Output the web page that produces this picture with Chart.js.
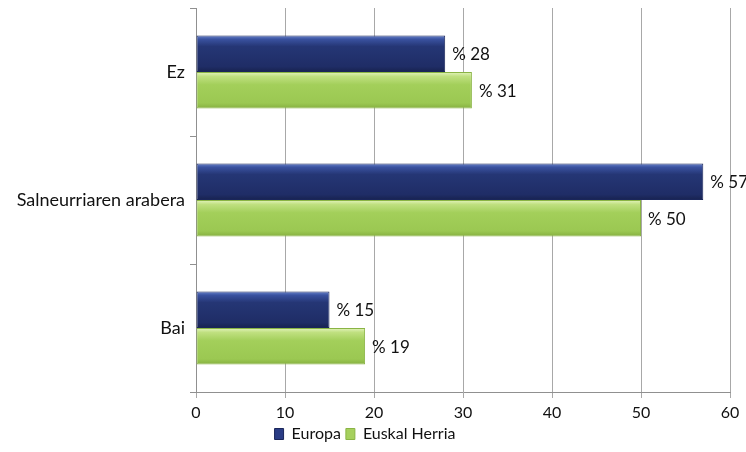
<!DOCTYPE html>
<html><head><meta charset="utf-8">
<script src="https://cdn.jsdelivr.net/npm/chart.js@4.4.1/dist/chart.umd.min.js"></script>
<style>html,body{margin:0;padding:0;background:#fff}#wrap{width:746px;height:452px}</style>
</head><body><div id="wrap"><canvas id="c"></canvas></div>
<script>
const categories = ["Ez", "Salneurriaren arabera", "Bai"];
const europa = [28, 57, 15];
const euskalHerria = [31, 50, 19];
const xTicks = [0, 10, 20, 30, 40, 50, 60];
const seriesNames = ["Europa", "Euskal Herria"];

const FONT = "Lato, 'Liberation Sans', Arial, sans-serif";
const CAT_PCT = 0.57;

function grad(stops, fallback) {
  return function(c){
    const ch = c.chart;
    const ys = ch.scales && ch.scales.y;
    if (!ys || c.dataIndex === undefined || !ch.chartArea) return fallback;
    const center = ys.getPixelForValue(c.dataIndex);
    const catW = (ch.chartArea.bottom - ch.chartArea.top) / categories.length;
    const h = catW * CAT_PCT / 2;
    const top = center + (c.datasetIndex === 0 ? -h : 0);
    const g = ch.ctx.createLinearGradient(0, top, 0, top + h);
    stops.forEach(s => g.addColorStop(s[0], s[1]));
    return g;
  };
}

const blueStops = [[0, '#6a84cc'], [0.1, '#3a52a0'], [0.3, '#253675'], [0.85, '#1f2d66'], [1, '#17224f']];
const greenStops = [[0, '#e4f4be'], [0.12, '#c0e080'], [0.35, '#a3cf5a'], [0.85, '#9bc852'], [1, '#86b040']];

const labelPlugin = {
  id: 'vals',
  afterDatasetsDraw(chart) {
    const ctx = chart.ctx;
    ctx.save();
    ctx.font = "17px " + FONT;
    ctx.fillStyle = "#111";
    ctx.textBaseline = "middle";
    ctx.textAlign = "left";
    chart.data.datasets.forEach((ds, i) => {
      chart.getDatasetMeta(i).data.forEach((bar, j) => {
        ctx.fillText("% " + ds.data[j], bar.x + 7, bar.y + 1);
      });
    });
    ctx.restore();
  }
};

new Chart(document.getElementById('c'), {
  type: 'bar',
  data: {
    labels: categories,
    datasets: [
      { label: seriesNames[0], data: europa,
        backgroundColor: grad(blueStops, '#243573'),
        borderColor: '#1a265a', borderWidth: 1, borderSkipped: false },
      { label: seriesNames[1], data: euskalHerria,
        backgroundColor: grad(greenStops, '#a2cd58'),
        borderColor: '#8ab444', borderWidth: 1, borderSkipped: false }
    ]
  },
  options: {
    indexAxis: 'y',
    responsive: true, maintainAspectRatio: false, animation: false,
    layout: { padding: { top: 8, right: 16, left: 0, bottom: 0 } },
    datasets: { bar: { barPercentage: 1.0, categoryPercentage: CAT_PCT } },
    scales: {
      x: {
        min: 0, max: 60,
        afterBuildTicks(s) { s.ticks = xTicks.map(v => ({ value: v })); },
        grid: { color: '#a8a8a8', lineWidth: 1, tickLength: 6, drawTicks: true },
        border: { color: '#909090' },
        ticks: { font: { family: FONT, size: 16 }, color: '#111', padding: 5 },
        afterFit(s) { s.height = 29; }
      },
      y: {
        grid: { drawOnChartArea: false, tickLength: 6, color: '#909090', offset: true },
        border: { color: '#909090' },
        ticks: { font: { family: FONT, size: 18 }, color: '#111', padding: 5 },
        afterFit(s) { s.width = 196; s.paddingTop = 0; s.paddingBottom = 0; }
      }
    },
    plugins: {
      legend: { position: 'bottom',
        labels: { font: { family: FONT, size: 16 }, color: '#111', boxWidth: 9, boxHeight: 11, padding: 5,
          generateLabels(chart) {
            return chart.data.datasets.map((ds, i) => ({
              text: ds.label, fillStyle: i === 0 ? '#2a3c85' : '#a6d05e',
              strokeStyle: i === 0 ? '#1a265a' : '#8ab444', lineWidth: 1,
              hidden: false, datasetIndex: i, fontColor: '#111'
            }));
          } } },
      tooltip: { enabled: false }
    }
  },
  plugins: [labelPlugin]
});
</script></body></html>
